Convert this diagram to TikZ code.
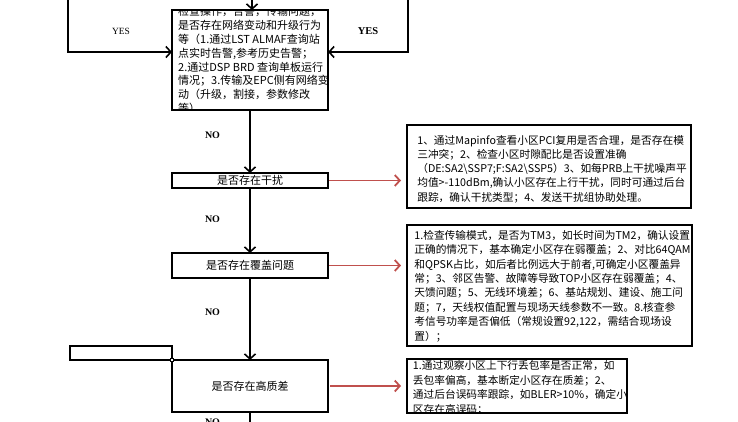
\documentclass[tikz,border=0pt]{standalone}
\usepackage{fontspec}
\setmainfont{Noto Sans CJK SC}
\newfontfamily\lat{Liberation Serif}
\usetikzlibrary{arrows.meta}
\definecolor{redarrow}{RGB}{192,80,77}
\begin{document}
\begin{tikzpicture}[x=1pt,y=-1pt,
  flow/.style={draw, line width=2.2pt, inner sep=0pt, outer sep=0pt, font=\fontsize{11}{13}\selectfont},
  note/.style={draw, line width=2.3pt, inner sep=0pt, outer sep=0pt},
  conn/.style={line width=1.6pt, -{Straight Barb[length=5pt,width=11pt]}},
  redconn/.style={draw=redarrow, line width=1.8pt, -{Straight Barb[length=5pt,width=11pt]}},
  lbl/.style={font=\lat\bfseries\fontsize{10}{12}\selectfont, inner sep=0pt},
  cliptext/.style={anchor=north west, inner sep=0pt, align=left}
]
\clip (0,0) rectangle (738,421);

% main flow boxes
\node[flow, minimum width=156pt, minimum height=100pt,
  path picture={\node[cliptext, font=\fontsize{11}{13.8}\selectfont] at ([xshift=3.5pt,yshift=3.5pt]path picture bounding box.north west)
  {检查操作，告警，传输问题，\\是否存在网络变动和升级行为\\等（1.通过LST ALMAF查询站\\点实时告警,参考历史告警；\\2.通过DSP BRD 查询单板运行\\情况；3.传输及EPC侧有网络变\\动（升级，割接，参数修改\\等）};}] (chk) at (250,60) {};

\node[flow, minimum width=156pt, minimum height=15pt] (q1) at (250,180.5) {是否存在干扰};
\node[flow, minimum width=156pt, minimum height=25pt] (q2) at (250,265.5) {是否存在覆盖问题};
\node[flow, minimum width=156pt, minimum height=52pt] (q3) at (250,386) {是否存在高质差};
\node[draw, line width=2.5pt, minimum width=102pt, minimum height=14pt, inner sep=0pt, outer sep=0pt] (sb) at (121,353) {};
\node[draw, fill=white, line width=0.8pt, minimum size=3.5pt, inner sep=0pt] (hd) at (q3.north west) {};

% note boxes
\node[note, minimum width=284pt, minimum height=83pt,
  path picture={\node[cliptext, font=\fontsize{10.7}{14.2}\selectfont] at ([xshift=3pt,yshift=-2.5pt]path picture bounding box.north west)
  {1、通过Mapinfo查看小区PCI复用是否合理，是否存在模\\三冲突；2、检查小区时隙配比是否设置准确\\（DE:SA2\textbackslash SSP7;F:SA2\textbackslash SSP5）3、如每PRB上干扰噪声平\\均值>-110dBm,确认小区存在上行干扰，同时可通过后台\\跟踪，确认干扰类型；4、发送干扰组协助处理。};}] (n1) at (549,166.5) {};

\node[note, minimum width=285pt, minimum height=121pt,
  path picture={\node[cliptext, font=\fontsize{10.7}{14.4}\selectfont] at ([xshift=3pt,yshift=-0.5pt]path picture bounding box.north west)
  {1.检查传输模式，是否为TM3，如长时间为TM2，确认设置\\正确的情况下，基本确定小区存在弱覆盖；2、对比64QAM\\和QPSK占比，如后者比例远大于前者,可确定小区覆盖异\\常；3、邻区告警、故障等导致TOP小区存在弱覆盖；4、\\天馈问题；5、无线环境差；6、基站规划、建设、施工问\\题；7，天线权值配置与现场天线参数不一致。8.核查参\\考信号功率是否偏低（常规设置92,122，需结合现场设\\置）；};}] (n2) at (549.5,285.5) {};

\node[note, minimum width=220pt, minimum height=54pt,
  path picture={\node[cliptext, font=\fontsize{10.7}{14.6}\selectfont] at ([xshift=3pt,yshift=-1.5pt]path picture bounding box.north west)
  {1.通过观察小区上下行丢包率是否正常，如\\丢包率偏高，基本断定小区存在质差；2、\\通过后台误码率跟踪，如BLER>10\%，确定小\\区存在高误码；};}] (n3) at (517,386) {};

% free ends
\coordinate (ltop) at (68,-5);
\coordinate (rtop) at (408,-5);
\coordinate (ttop) at (252,-5);
\coordinate (bot) at (250,430);

% black connectors
\draw[conn] (ltop) |- ([yshift=8pt]chk.west);
\draw[conn] (rtop) |- ([yshift=8pt]chk.east);
\draw[conn] (ttop) -- (ttop |- chk.north);
\draw[conn] (chk.south) -- (q1.north);
\draw[conn] (q1.south) -- (q2.north);
\draw[conn] (q2.south) -- (q3.north);
\draw[line width=1.6pt] (q3.south) -- (bot);

% red connectors
\draw[redconn, shorten <=1pt, shorten >=6pt] (q1.east) -- (q1.east -| n1.west);
\draw[redconn, shorten <=1pt, shorten >=6pt] (q2.east) -- (q2.east -| n2.west);
\draw[redconn, shorten <=2pt, shorten >=6pt] (q3.east) -- (q3.east -| n3.west);

% labels
\node[font=\lat\fontsize{9.5}{11}\selectfont, inner sep=0pt] (yl) at (121,31.5) {YES};
\node[lbl, font=\lat\bfseries\fontsize{10.5}{12}\selectfont] (yr) at (368,31.5) {YES};
\node[lbl] (no1) at (212.5,135) {NO};
\node[lbl] (no2) at (212.5,219) {NO};
\node[lbl] (no3) at (212.5,312) {NO};
\node[lbl] (no4) at (212.5,422.5) {NO};
\end{tikzpicture}
\end{document}
